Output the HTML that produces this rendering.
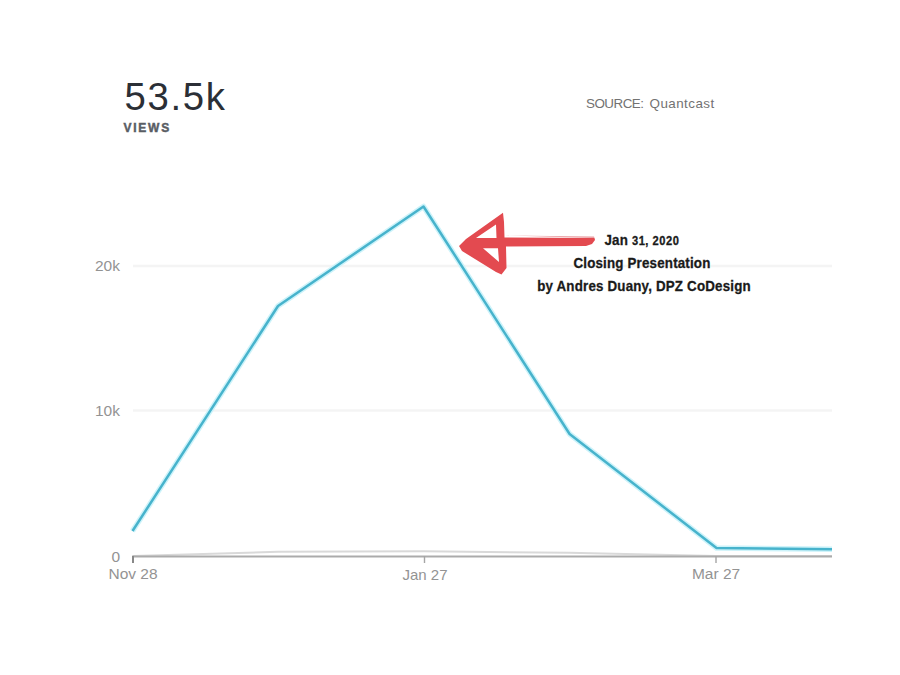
<!DOCTYPE html>
<html>
<head>
<meta charset="utf-8">
<style>
html,body{margin:0;padding:0;background:#fff;}
body{width:900px;height:675px;position:relative;overflow:hidden;font-family:"Liberation Sans",sans-serif;}
.t{position:absolute;white-space:nowrap;line-height:1;}
#big{left:124.5px;top:77.8px;font-size:38.3px;color:#2b2f36;letter-spacing:1.7px;}
#views{left:123.5px;top:122px;font-size:12px;font-weight:bold;color:#595d64;letter-spacing:1.75px;-webkit-text-stroke:0.45px #595d64;}
#src{left:586px;top:97px;font-size:13.4px;color:#727272;letter-spacing:0.1px;}
.yl{font-size:15.5px;color:#939393;text-align:right;width:40px;}
.xl{font-size:15.5px;color:#939393;text-align:center;width:80px;}
.an{font-size:15px;font-weight:bold;color:#1a1a1a;text-align:center;width:260px;left:512px;letter-spacing:0.2px;-webkit-text-stroke:0.3px #1a1a1a;transform:scaleX(0.89);transform-origin:130px 0;}
.an .d{font-size:12.5px;letter-spacing:0.6px;}
svg{position:absolute;left:0;top:0;}
</style>
</head>
<body>
<svg width="900" height="675" viewBox="0 0 900 675">
  <!-- gridlines -->
  <line x1="133" y1="266" x2="832" y2="266" stroke="#f4f4f4" stroke-width="2.5"/>
  <line x1="133" y1="410.5" x2="832" y2="410.5" stroke="#f4f4f4" stroke-width="2.5"/>
  <!-- secondary gray line -->
  <polyline points="133,556 278,551.8 424,551.3 569,552.8 716,556 832,556" fill="none" stroke="#d9d9d9" stroke-width="2"/>
  <!-- axis -->
  <line x1="132" y1="556.5" x2="832" y2="556.5" stroke="#ababab" stroke-width="2.2"/>
  <line x1="133" y1="556" x2="133" y2="563" stroke="#888" stroke-width="2"/>
  <line x1="424.5" y1="556" x2="424.5" y2="563" stroke="#a5a5a5" stroke-width="1.4"/>
  <line x1="716" y1="556" x2="716" y2="563" stroke="#a5a5a5" stroke-width="1.4"/>
  <!-- data line -->
  <polyline points="132.5,531 278,306 423.5,206.5 569.6,434 716.5,548 832,549.3" fill="none" stroke="#cdf3fa" stroke-width="5.5" stroke-linejoin="round" stroke-linecap="butt"/>
  <polyline points="132.5,531 278,306 423.5,206.5 569.6,434 716.5,548 832,549.3" fill="none" stroke="#47b3cc" stroke-width="2.5" stroke-linejoin="round" stroke-linecap="butt"/>
  <!-- red arrow -->
  <path d="M505 235.5 L594 236.5 L594.5 238 Z" fill="#eaa0a4"/>
  <path fill-rule="evenodd" fill="#e34a50" d="M459 246 L466 239 L503 212.8 L504 222 L504.5 237.5 L594.5 238 L595 240 L592 244 L586 246 L506 246.5 L506.5 268 L501.5 274.5 L496 272 L462 251 Z
  M476 238 L496 224.5 L496.5 238 Z
  M483 248.3 L498 248.3 L499 262 Z"/>
</svg>
<div class="t" id="big">53.5k</div>
<div class="t" id="views">VIEWS</div>
<div class="t" id="src"><span style="letter-spacing:-0.5px">SOURCE:</span><span style="display:inline-block;width:6px"></span><span style="letter-spacing:0.45px">Quantcast</span></div>
<div class="t yl" style="left:80px;top:258px;">20k</div>
<div class="t yl" style="left:80px;top:403px;">10k</div>
<div class="t yl" style="left:80px;top:549px;">0</div>
<div class="t xl" style="left:93px;top:566px;">Nov 28</div>
<div class="t xl" style="left:385px;top:566.5px;font-size:15px">Jan 27</div>
<div class="t xl" style="left:676px;top:566px;">Mar 27</div>
<div class="t an" style="top:231.5px;">Jan <span class="d">31, 2020</span></div>
<div class="t an" style="top:255px;">Closing Presentation</div>
<div class="t an" style="top:278px;left:514px;">by Andres Duany, DPZ CoDesign</div>
</body>
</html>
